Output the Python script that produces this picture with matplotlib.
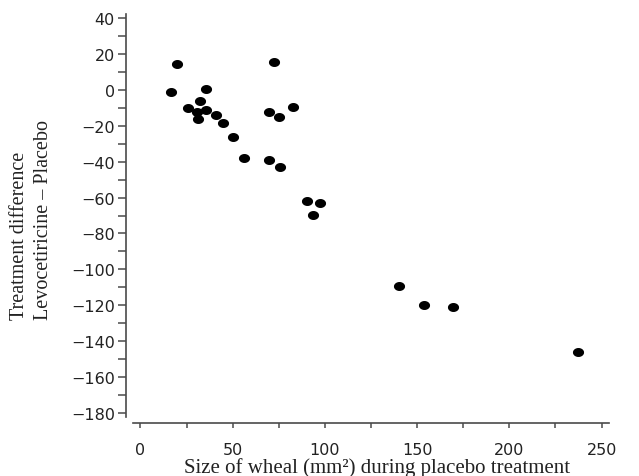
import matplotlib
matplotlib.use("Agg")
import matplotlib.pyplot as plt
import numpy as np
from matplotlib.ticker import MultipleLocator
from matplotlib.path import Path

wheal_size = [16.4, 20.0, 35.5, 32.3, 26.0, 30.8, 35.5, 31.0, 40.8, 44.9,
              50.0, 56.1, 72.5, 69.5, 74.9, 82.8, 69.5, 75.8, 90.4, 97.5,
              93.3, 140.1, 153.6, 169.2, 237.2]
treat_diff = [-1.2, 14.8, 0.8, -6.0, -9.9, -12.2, -10.9, -16.3, -14.1, -18.2,
              -26.1, -38.1, 15.9, -12.2, -15.2, -9.2, -39.2, -43.1, -62.1, -63.2,
              -69.9, -109.1, -120.0, -121.1, -146.3]

plt.rcParams['font.family'] = ['DejaVu Sans']

fig = plt.figure(figsize=(6.39, 4.77), dpi=100)
ax = fig.add_axes([133/639, 1-418/477, (609-133)/639, (418-15)/477])

t = np.linspace(0, 2*np.pi, 40)
ellipse = Path(np.column_stack([np.cos(t), 0.78*np.sin(t)]), closed=True)

ax.plot(wheal_size, treat_diff, linestyle='none', marker=ellipse, color='black',
        markersize=7.0, clip_on=False)

ax.set_xlim(-4, 254)
ax.set_ylim(-182.5, 42.5)

for s in ['top', 'right']:
    ax.spines[s].set_visible(False)
spcol = '#4a4a4a'
ax.spines['left'].set_position(('outward', 5))
ax.spines['bottom'].set_position(('outward', 4.3))
for s in ['left', 'bottom']:
    ax.spines[s].set_color(spcol)
    ax.spines[s].set_linewidth(1.2)

ax.xaxis.set_major_locator(MultipleLocator(50))
ax.xaxis.set_minor_locator(MultipleLocator(25))
ax.yaxis.set_major_locator(MultipleLocator(20))
ax.yaxis.set_minor_locator(MultipleLocator(10))

ax.tick_params(axis='y', which='both', direction='out', length=6, width=1.1,
               color=spcol, pad=2, labelsize=11.5, labelcolor='#222222')
ax.tick_params(axis='x', which='both', direction='out', length=3.5, width=1.1,
               color=spcol, pad=10, labelsize=11.5, labelcolor='#222222')

fig.text(377/639, 1-473/477, 'Size of wheal (mm\u00b2) during placebo treatment',
         family='Liberation Serif', fontsize=15, ha='center', va='baseline', color='#222222')

fig.text(19.5/639, 1-320/477, 'Treatment difference', rotation=90,
         family='Liberation Serif', fontsize=14.5, ha='center', va='bottom', color='#222222')
fig.text(44/639, 1-320/477, 'Levocetiricine \u2013 Placebo', rotation=90,
         family='Liberation Serif', fontsize=14.5, ha='center', va='bottom', color='#222222')

fig.savefig('out.png', dpi=100)
